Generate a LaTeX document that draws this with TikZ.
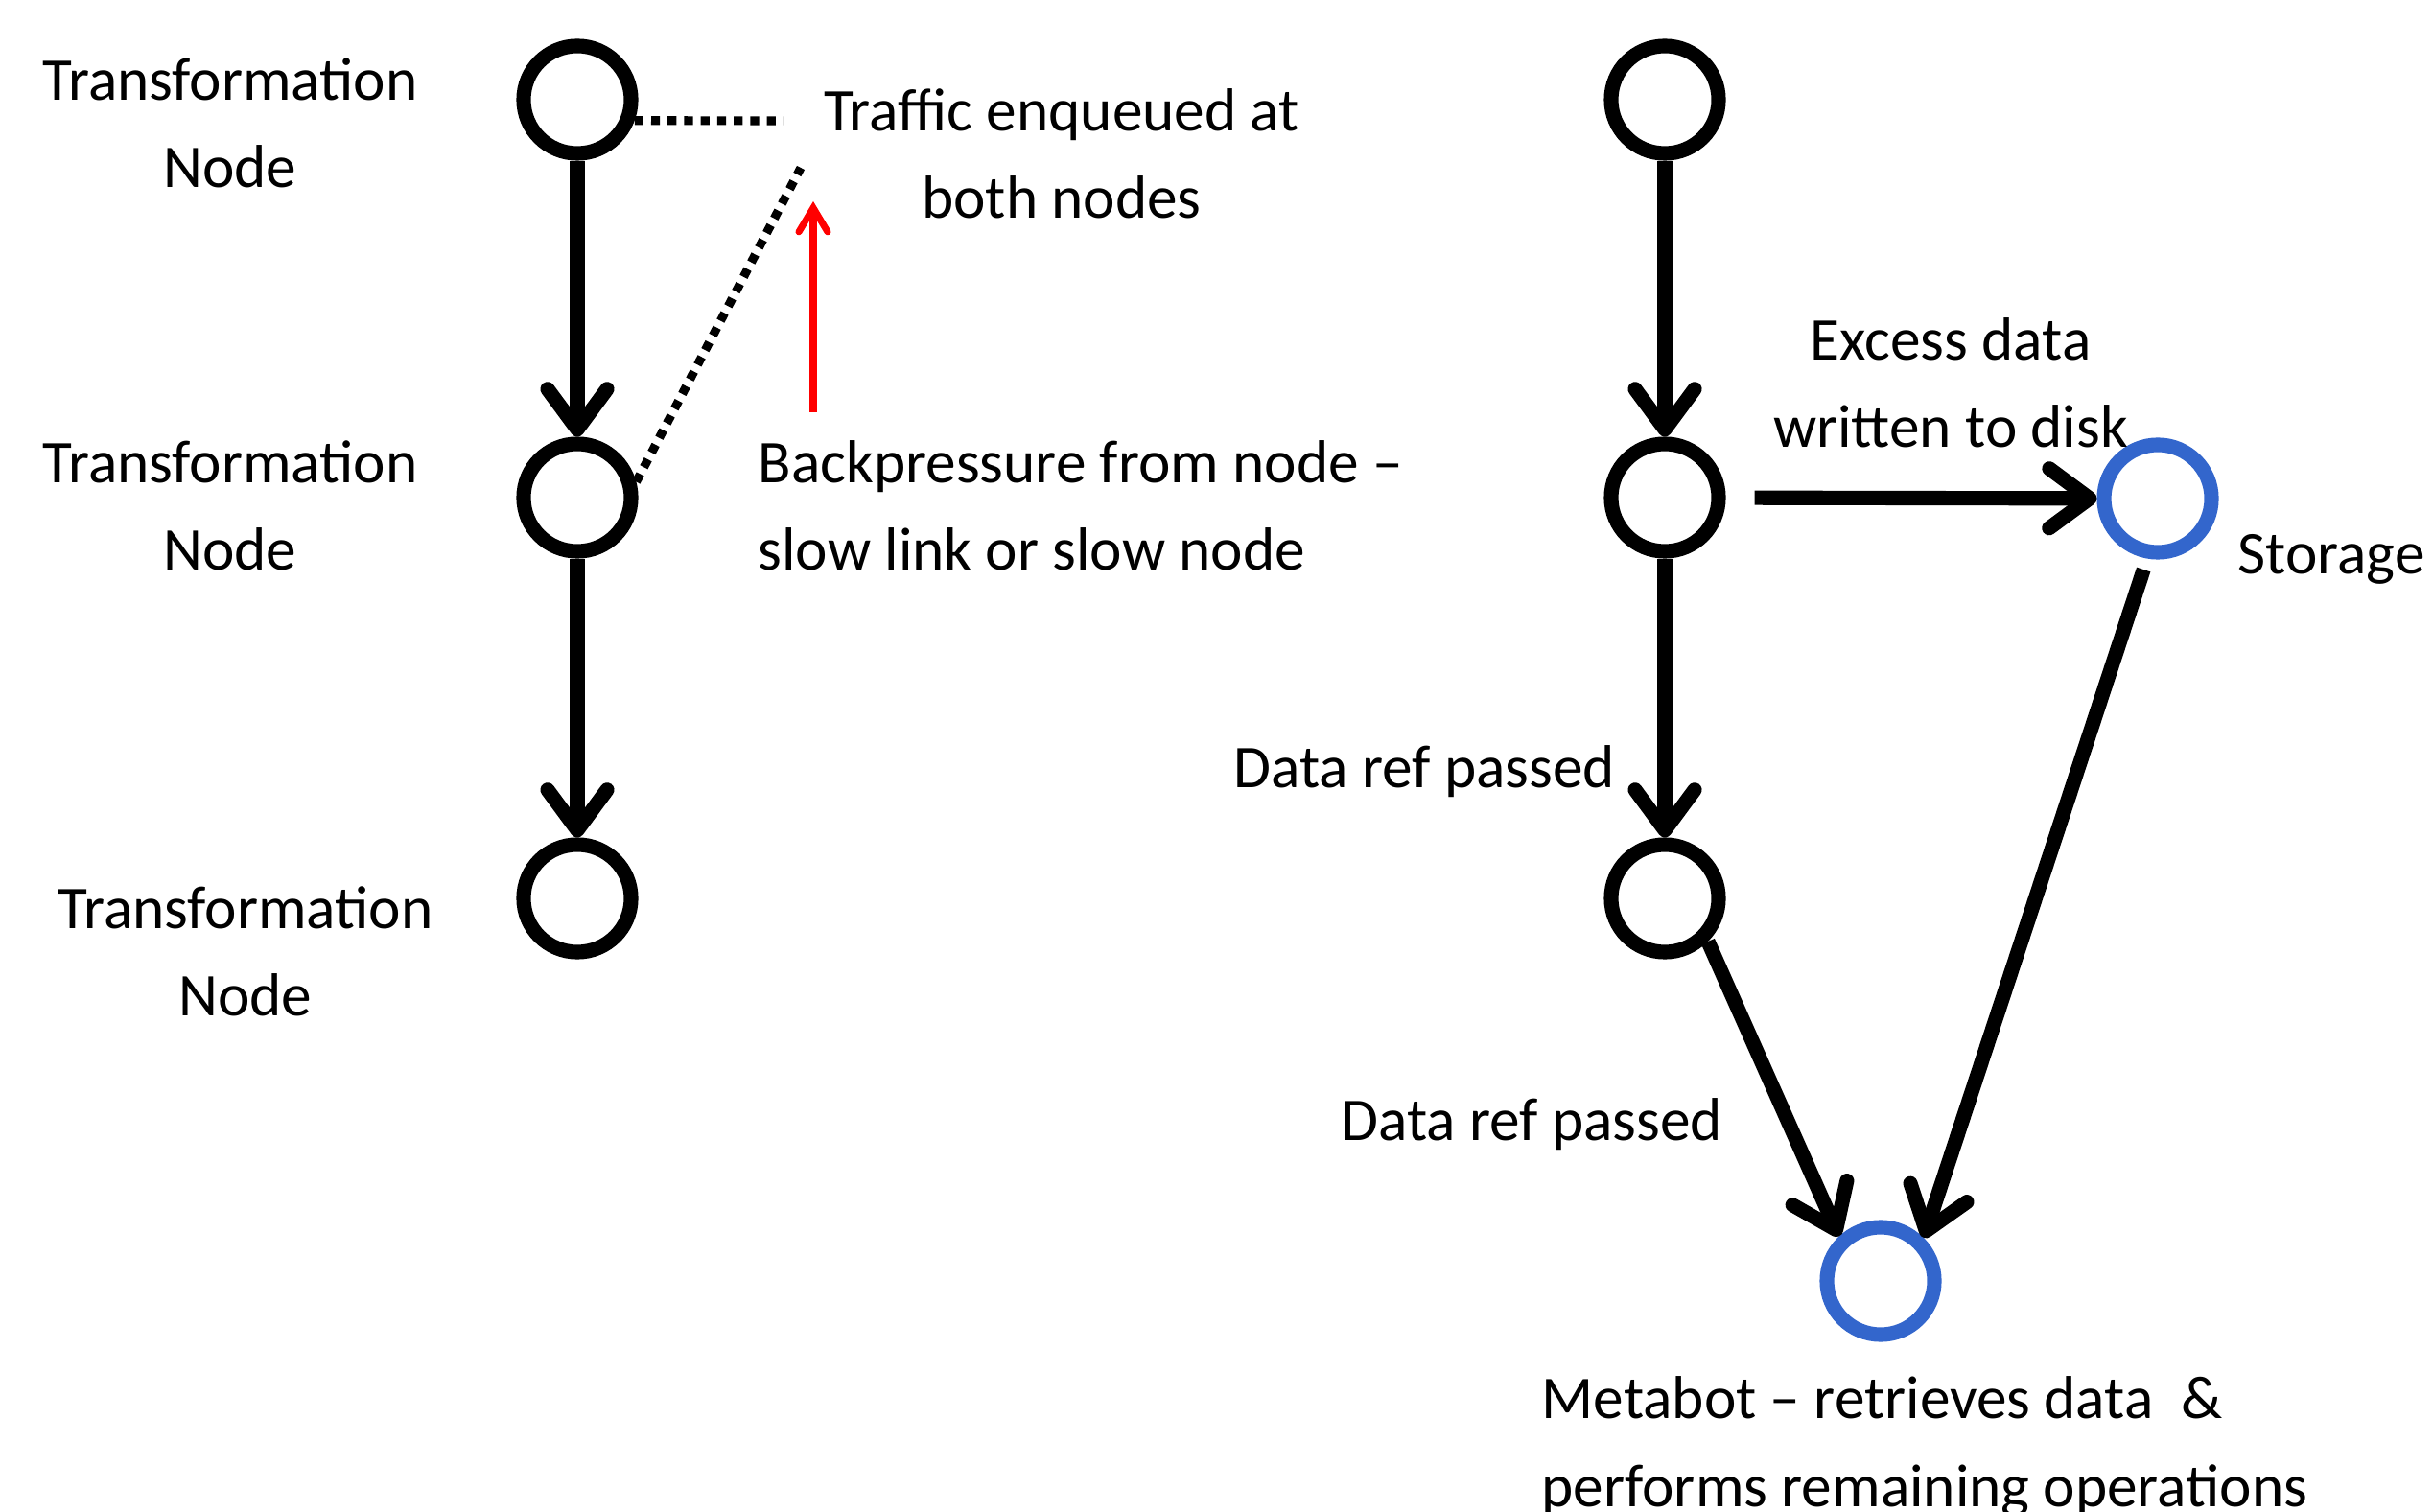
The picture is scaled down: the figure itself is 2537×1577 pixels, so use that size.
\documentclass[tikz,border=0pt]{standalone}
\usepackage{fontspec}
\setmainfont{Carlito}
\usetikzlibrary{arrows.meta}
\definecolor{storeblue}{HTML}{3366CC}

\begin{document}
\begin{tikzpicture}[x=0.01cm,y=-0.01cm,
             tnode/.style={circle,draw,line width=4.3pt,minimum size=1.12cm,inner sep=0pt},
             snode/.style={tnode,draw=storeblue},
             lbl/.style={inner sep=0pt,font=\fontsize{18}{26}\selectfont},
             flow/.style={line width=4.3pt,-{Straight Barb[length=0.42cm,width=0.62cm,line cap=round,line join=round]}},
             dots/.style={line width=2.6pt,dash pattern=on 2.6pt off 2.3pt}]
             \useasboundingbox (0,0) rectangle (2537,1577);
             \node[tnode] (n1) at (602,104) {};
             \node[tnode] (n2) at (602,519) {};
             \node[tnode] (n3) at (602,937) {};
             \node[tnode] (r1) at (1736,104) {};
             \node[tnode] (r2) at (1736,519) {};
             \node[tnode] (r3) at (1736,937) {};
             \node[snode] (st) at (2250,520) {};
             \node[snode] (meta) at (1961,1336) {};
             \node[lbl,align=center,anchor=base] (t1) at (240,196) {Transformation\\Node};
             \node[lbl,align=center,anchor=base] (t2) at (240,595) {Transformation\\Node};
             \node[lbl,align=center,anchor=base] (t3) at (256,1060) {Transformation\\Node};
             \node[lbl,align=center,anchor=base] (tq) at (1107,228) {Traffic enqueued at\\both nodes};
             \node[lbl,align=left,anchor=base west] (bp) at (790,595) {Backpressure from node --\\slow link or slow node};
             \node[lbl,align=center,anchor=base] (ex) at (2034,467) {Excess data\\written to disk};
             \node[lbl,anchor=base west] (stl) at (2333,599) {Storage};
             \node[lbl,anchor=base west] (dr1) at (1286,822) {Data ref passed};
             \node[lbl,anchor=base west] (dr2) at (1398,1189) {Data ref passed};
             \node[lbl,align=left,anchor=base west] (mb) at (1607,1571) {Metabot -- retrieves data\ \ \&\\performs remaining operations};
             \coordinate (q1) at (817,126);
             \coordinate (q2) at (835,175);
             \coordinate (p1) at (848,430);
             \coordinate (p2) at (848,210);
             \draw[flow] (n1) -- (n2);
             \draw[flow] (n2) -- (n3);
             \draw[dots] (n1.-20) -- (q1);
             \draw[dots] (n2.15) -- (q2);
             \draw[red,line width=2pt,-{Straight Barb[length=0.25cm,width=0.3cm,line cap=round]}] (p1) -- (p2);
             \draw[flow] (r1) -- (r2);
             \draw[flow] (r2) -- (r3);
             \draw[flow,shorten <=0.3cm] (r2) -- (st);
             \draw[flow] (r3.-45) -- (meta.133);
             \draw[flow,shorten <=0.12cm] (st.-100) -- (meta.45);
            \end{tikzpicture}
\end{document}
